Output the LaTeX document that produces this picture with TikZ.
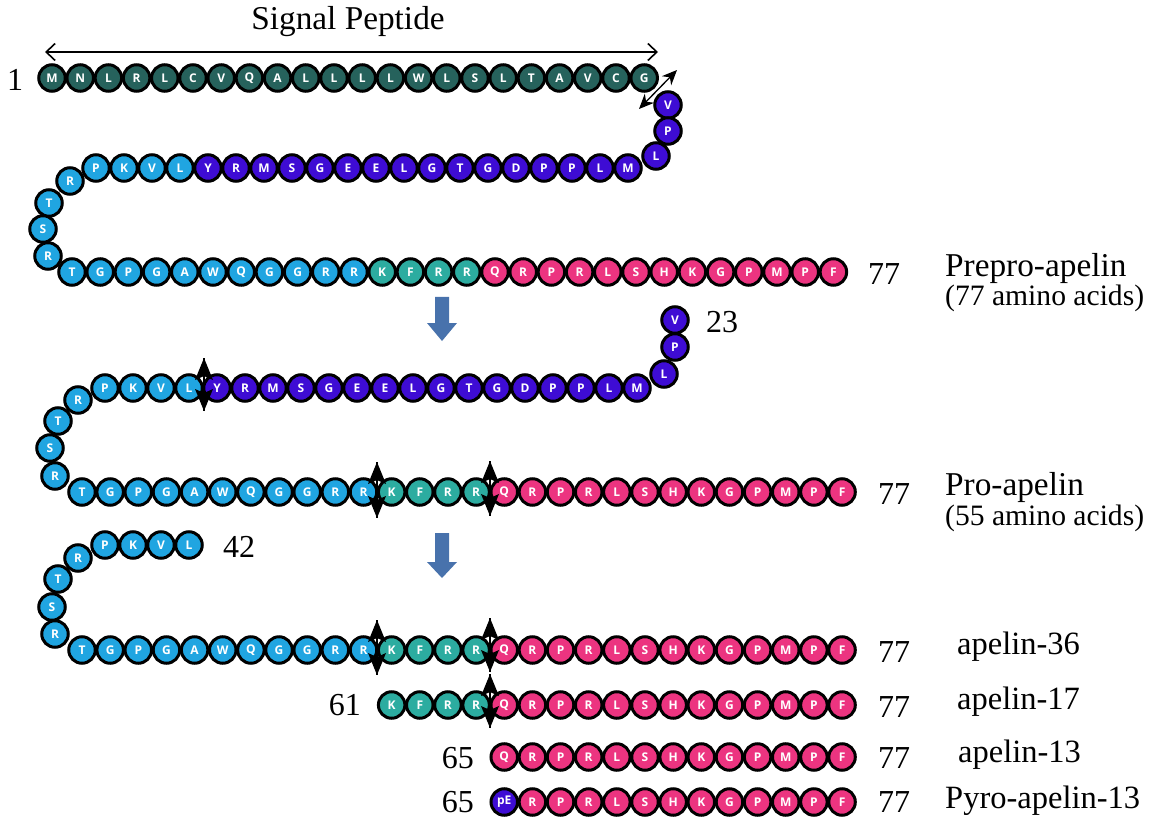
\documentclass[tikz,border=0pt]{standalone}
\usepackage{fontspec}
\setmainfont{Liberation Serif}
\newfontfamily\beadfont{Open Sans}
\usetikzlibrary{arrows.meta}
\definecolor{sigc}{RGB}{38,98,92}
\definecolor{purc}{RGB}{62,12,212}
\definecolor{bluc}{RGB}{32,165,225}
\definecolor{tealc}{RGB}{44,172,160}
\definecolor{pinkc}{RGB}{236,52,128}
\definecolor{arrowc}{RGB}{72,114,172}
\tikzset{
  bead/.style={circle, draw=black, line width=3pt, minimum size=26.5pt, inner sep=0pt,
    text=white, font=\beadfont\fontsize{12}{12}\selectfont\bfseries},
  lab/.style={font=\fontsize{32.5}{32.5}\selectfont, inner sep=0pt},
  biglab/.style={font=\fontsize{33.3}{33.3}\selectfont, inner sep=0pt},
  sublab/.style={font=\fontsize{29.6}{29.6}\selectfont, inner sep=0pt},
  num/.style={font=\fontsize{32}{32}\selectfont, inner sep=0pt},
  cutline/.style={line width=1.3pt, draw=black},
  cuthead/.style={fill=black},
  blockarrow/.style={fill=arrowc, draw=none}
}
\newcommand\beadrow[7]{%
  \foreach \l [count=\i from #5] in {#7} \node[bead,fill=#6] (#1\i) at ({#2+#3*\i},#4) {\l};}
% vertical cleavage marker between two named coordinates
\newcommand\cutmark[4]{%
  \coordinate (#1t) at (#2,#3); \coordinate (#1b) at (#2,#4);
  \draw[cutline] (#1t) -- (#1b);
  \fill[cuthead] (#1t) -- ++(9,22) -- ++(-9,-4) -- ++(-9,4) -- cycle;
  \fill[cuthead] (#1b) -- ++(9,-22) -- ++(-9,4) -- ++(-9,-4) -- cycle;}
\begin{document}
\begin{tikzpicture}[x=1pt,y=-1pt]
\useasboundingbox (0,0) rectangle (1160,821);
\fill[white] (0,0) rectangle (1160,821);

% ---------- Signal peptide label ----------
\node[biglab] (sptxt) at (348,22) {Signal Peptide};
\coordinate (spl) at (45,52);
\coordinate (spr) at (658,52);
\draw[line width=1.6pt, {Straight Barb[length=9pt,width=17pt]}-{Straight Barb[length=9pt,width=17pt]}] (spl) -- (spr);

% ---------- Prepro-apelin ----------
\node[num] (n1) at (15,80) {1};
\beadrow{a}{52}{28.2}{78}{0}{sigc}{M,N,L,R,L,C,V,Q,A,L,L,L,L,W,L,S,L,T,A,V,C,G}
\node[bead,fill=purc] (at3) at (668,105) {V};
\node[bead,fill=purc] (at2) at (668,131) {P};
\node[bead,fill=purc] (at1) at (656,156) {L};
\beadrow{b}{96}{28}{168}{4}{purc}{Y,R,M,S,G,E,E,L,G,T,G,D,P,P,L,M}
\beadrow{b}{96}{28}{168}{0}{bluc}{P,K,V,L}
\node[bead,fill=bluc] (bl1) at (70,181) {R};
\node[bead,fill=bluc] (bl2) at (49,203) {T};
\node[bead,fill=bluc] (bl3) at (43,229) {S};
\node[bead,fill=bluc] (bl4) at (48,256) {R};
\beadrow{c}{72}{28.2}{272}{0}{bluc}{T,G,P,G,A,W,Q,G,G,R,R}
\beadrow{c}{72}{28.2}{272}{11}{tealc}{K,F,R,R}
\beadrow{c}{72}{28.2}{272}{15}{pinkc}{Q,R,P,R,L,S,H,K,G,P,M,P,F}
\coordinate (sgA) at (639,109);
\coordinate (sgB) at (677,70);
\draw[line width=1.3pt, {Stealth[length=15pt,width=13pt]}-{Stealth[length=15pt,width=13pt]}] (sgA) -- (sgB);
\node[num,anchor=west] (c77) at (868,274) {77};
\node[biglab,anchor=west] (pp) at (945,268) {Prepro-apelin};
\node[sublab,anchor=west] (ppa) at (945,298) {(77 amino acids)};

% arrow 1
\fill[blockarrow] (435,297) -- (449,297) -- (449,323) -- (457,323) -- (442,341) -- (427,323) -- (435,323) -- cycle;

% ---------- Pro-apelin ----------
\node[bead,fill=purc] (dt3) at (675,320) {V};
\node[bead,fill=purc] (dt2) at (675,347) {P};
\node[bead,fill=purc] (dt1) at (664,374) {L};
\node[num,anchor=west] (n23) at (706,322) {23};
\beadrow{d}{105}{28}{388}{4}{purc}{Y,R,M,S,G,E,E,L,G,T,G,D,P,P,L,M}
\beadrow{d}{105}{28}{388}{0}{bluc}{P,K,V,L}
\node[bead,fill=bluc] (dl1) at (78,400) {R};
\node[bead,fill=bluc] (dl2) at (58,421) {T};
\node[bead,fill=bluc] (dl3) at (50,448) {S};
\node[bead,fill=bluc] (dl4) at (55,476) {R};
\beadrow{e}{82}{28.15}{492}{0}{bluc}{T,G,P,G,A,W,Q,G,G,R,R}
\beadrow{e}{82}{28.15}{492}{11}{tealc}{K,F,R,R}
\beadrow{e}{82}{28.15}{492}{15}{pinkc}{Q,R,P,R,L,S,H,K,G,P,M,P,F}
\cutmark{cd}{204}{358}{411}
\cutmark{ce}{377}{462}{518}
\cutmark{cf}{490}{461}{516}
\node[num,anchor=west] (e77) at (878,494) {77};
\node[biglab,anchor=west] (pro) at (945,487) {Pro-apelin};
\node[sublab,anchor=west] (proa) at (945,518) {(55 amino acids)};

% arrow 2
\fill[blockarrow] (435,533) -- (449,533) -- (449,562) -- (457,562) -- (442,578) -- (427,562) -- (435,562) -- cycle;

% ---------- apelin-36 ----------
\beadrow{f}{105}{28}{545}{0}{bluc}{P,K,V,L}
\node[num,anchor=west] (n42) at (223,547) {42};
\node[bead,fill=bluc] (fl1) at (78,558) {R};
\node[bead,fill=bluc] (fl2) at (58,579) {T};
\node[bead,fill=bluc] (fl3) at (52,607) {S};
\node[bead,fill=bluc] (fl4) at (55,634) {R};
\beadrow{g}{82}{28.15}{650}{0}{bluc}{T,G,P,G,A,W,Q,G,G,R,R}
\beadrow{g}{82}{28.15}{650}{11}{tealc}{K,F,R,R}
\beadrow{g}{82}{28.15}{650}{15}{pinkc}{Q,R,P,R,L,S,H,K,G,P,M,P,F}
\cutmark{cg}{377}{620}{675}
\cutmark{ch}{490}{618}{672}
\node[num,anchor=west] (g77) at (878,652) {77};
\node[lab,anchor=west] (a36) at (957,647) {apelin-36};

% ---------- apelin-17 ----------
\node[num,anchor=east] (n61) at (361,705) {61};
\beadrow{h}{82}{28.15}{705}{11}{tealc}{K,F,R,R}
\beadrow{h}{82}{28.15}{705}{15}{pinkc}{Q,R,P,R,L,S,H,K,G,P,M,P,F}
\cutmark{ci}{490}{674}{728}
\node[num,anchor=west] (h77) at (878,707) {77};
\node[lab,anchor=west] (a17) at (957,702) {apelin-17};

% ---------- apelin-13 ----------
\node[num,anchor=east] (n65a) at (474,758) {65};
\beadrow{i}{82}{28.15}{757}{15}{pinkc}{Q,R,P,R,L,S,H,K,G,P,M,P,F}
\node[num,anchor=west] (i77) at (878,758) {77};
\node[lab,anchor=west] (a13) at (958,755) {apelin-13};

% ---------- Pyro-apelin-13 ----------
\node[num,anchor=east] (n65b) at (474,802) {65};
\beadrow{j}{82}{28.15}{802}{15}{purc}{pE}
\beadrow{j}{82}{28.15}{802}{16}{pinkc}{R,P,R,L,S,H,K,G,P,M,P,F}
\node[num,anchor=west] (j77) at (878,802) {77};
\node[lab,anchor=west] (pa13) at (945,801) {Pyro-apelin-13};
\end{tikzpicture}
\end{document}
